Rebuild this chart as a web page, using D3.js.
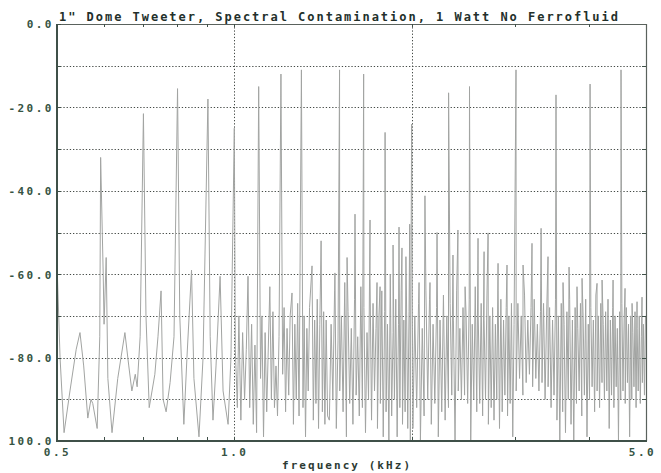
<!DOCTYPE html>
<html><head><meta charset="utf-8">
<script src="https://cdn.jsdelivr.net/npm/d3@7"></script>
<style>
html,body{margin:0;padding:0;background:#ffffff;}
svg{display:block;}
text{font-family:"DejaVu Sans Mono",monospace;font-weight:bold;}
</style></head><body>
<svg id="chart" width="661" height="473"></svg>
<script>
// Labels and ticks
const chartTitle = '1" Dome Tweeter, Spectral Contamination, 1 Watt No Ferrofluid';
const xLabel = 'frequency (kHz)';
const yTickValues = [0, -20, -40, -60, -80, -100];
const yTickLabels = ['0.0', '-20.0', '-40.0', '-60.0', '-80.0', '100.0'];
const xTickValues = [0.5, 1.0, 5.0];
const xTickLabels = ['0.5', '1.0', '5.0'];
const xMinorTicks = [0.6, 0.7, 0.8, 0.9, 3, 4];
const yGridValues = [-10, -20, -30, -40, -50, -60, -70, -80, -90];
const xGridValues = [1, 2];

// Test tones (tall spikes)
const toneKHz = [0.593, 0.701, 0.801, 0.902, 1.000, 1.100, 1.200, 1.300, 1.509, 1.658, 1.803, 2.000, 2.311, 2.508, 3.008, 3.517, 4.018, 4.535];
const toneDb  = [-32, -21.5, -15.5, -18, -25, -15, -12, -11, -11, -12, -26, -24, -16.5, -15, -11, -17, -14.4, -11];

// Distortion / intermodulation products
const productKHz = [0.606, 0.751, 0.846, 0.946, 1.055, 1.149, 1.253, 1.355, 1.404,
  1.482, 1.554, 1.603, 1.700, 1.747, 1.768, 1.860, 1.904, 1.926, 1.956, 1.985,
  2.059, 2.107, 2.149, 2.209, 2.351, 2.397, 2.465, 2.593, 2.655, 2.697, 2.804, 2.904,
  3.092, 3.202, 3.318, 3.409, 3.615, 3.701, 3.818, 3.894, 4.129, 4.211, 4.396, 4.607, 4.735, 4.828, 4.923];
const productDb = [-56, -64, -59, -60.5, -60.5, -63, -64.5, -58, -52,
  -59.7, -56, -45.6, -47, -62, -63, -53, -48.7, -53.7, -55.8, -48,
  -62, -41.2, -62, -50, -55.4, -49.4, -63, -51.4, -54.6, -50.1, -57.4, -57.8,
  -57.8, -52.6, -49, -55.8, -62, -58.3, -63, -61, -62.2, -61.4, -61.4, -63.4, -67, -66.6, -65.5];

// Residual floor below 1.45 kHz
const floorLowKHz = [0.501, 0.506, 0.514, 0.526, 0.539, 0.547, 0.555, 0.564, 0.571, 0.575, 0.585, 0.591,
  0.599, 0.601, 0.610, 0.620, 0.634, 0.652, 0.662, 0.670, 0.679, 0.684, 0.692,
  0.708, 0.717, 0.725, 0.733, 0.742, 0.757, 0.766, 0.778, 0.790,
  0.808, 0.821, 0.831, 0.854, 0.871, 0.885, 0.910, 0.920, 0.931, 0.957, 0.976, 0.987,
  1.004, 1.012, 1.018, 1.026, 1.033, 1.041, 1.048, 1.062, 1.070, 1.077, 1.084, 1.091,
  1.108, 1.114, 1.121, 1.128, 1.135, 1.141, 1.156, 1.163, 1.170, 1.177, 1.184, 1.191,
  1.208, 1.215, 1.222, 1.229, 1.237, 1.244, 1.260, 1.267, 1.274, 1.281, 1.288,
  1.308, 1.314, 1.321, 1.328, 1.335, 1.342, 1.362, 1.369, 1.376, 1.383, 1.390, 1.397,
  1.411, 1.418, 1.425, 1.432, 1.440];
const floorLowDb = [-61, -80, -98, -88, -78, -74, -82, -94.5, -90, -91, -97, -75,
  -60, -72, -85, -98, -85, -74, -82, -88, -84, -87, -75,
  -70, -92, -88, -84, -75, -90, -93, -86, -75,
  -70, -96, -80, -85, -99, -80, -75, -95, -82, -88, -96, -80,
  -78, -92, -70, -95, -74, -90, -78, -92, -72, -96, -77, -98,
  -85, -70, -99, -74, -93, -80, -90, -69, -92, -82, -94, -75,
  -84, -68, -93, -73, -89, -70, -96, -72, -90, -67, -94,
  -92, -70, -99, -73, -88, -68, -95, -71, -91, -66, -97, -72,
  -93, -69, -96, -71, -94];

// Residual floor, 1.45 - 2.0 kHz, 10 Hz bins
const floorMidStart = 1.45, floorMidStep = 0.01;
const floorMidDb = [-95, -72, -90, -64, -97, -76, -88, -70, -93, -62,
  -99, -69, -91, -73, -96, -66, -89, -75, -94, -63,
  -92, -68, -98, -74, -90, -61, -95, -67, -88, -73,
  -97, -70, -91, -64, -99, -69, -93, -72, -100, -60,
  -94, -74, -90, -66, -99, -72, -92, -64, -96, -71,
  -93, -65, -97, -69, -100];

// Residual floor, 2.0 - 3.0 kHz, 15 Hz bins
const floorHighStart = 2.01, floorHighStep = 0.015;
const floorHighDb = [-97, -70, -92, -67, -100, -73, -94, -64, -90, -66,
  -96, -72, -91, -68, -99, -71, -93, -65, -95, -70,
  -92, -67, -89, -71, -100, -64, -88, -73, -90, -68,
  -89, -70, -91, -66, -100, -72, -90, -63, -93, -70,
  -91, -67, -94, -71, -90, -65, -96, -70, -92, -68,
  -95, -72, -90, -64, -97, -66, -93, -71, -89, -68,
  -94, -70, -91, -67, -99, -72];

// Residual floor, 3.0 - 5.0 kHz, 20 Hz bins
const floorTopStart = 3.01, floorTopStep = 0.02;
const floorTopDb = [-88, -67, -85, -70, -89, -65, -86, -71, -84, -68,
  -87, -66, -85, -72, -88, -69, -86, -67, -90, -70,
  -87, -68, -92, -71, -89, -66, -95, -70, -100, -67,
  -93, -72, -98, -69, -90, -66, -96, -71, -100, -68,
  -91, -73, -88, -67, -94, -70, -89, -66, -99, -72,
  -90, -68, -87, -71, -93, -65, -88, -70, -92, -67,
  -86, -72, -90, -69, -88, -66, -97, -71, -89, -68,
  -92, -70, -87, -73, -100, -69, -90, -67, -88, -71,
  -91, -68, -86, -72, -99, -70, -90, -74, -87, -69,
  -92, -73, -88, -70, -91, -75, -86, -72, -89, -70];

// Layout
const W = 661, H = 473;
const plot = {left: 57, right: 646, top: 24, bottom: 441};
const labelColor = '#365443';
const axisColor = '#3f5048';

const svg = d3.select('#chart');
svg.append('rect').attr('width', W).attr('height', H).attr('fill', '#ffffff');

const x = d3.scaleLog().domain([0.5, 5]).range([plot.left, plot.right]);
const y = d3.scaleLinear().domain([0, -100]).range([plot.top, plot.bottom]);

// Assemble the measured trace, sorted by frequency
const trace = [];
toneKHz.forEach((f, i) => trace.push([f, toneDb[i]]));
productKHz.forEach((f, i) => trace.push([f, productDb[i]]));
floorLowKHz.forEach((f, i) => trace.push([f, floorLowDb[i]]));
[[floorMidStart, floorMidStep, floorMidDb],
 [floorHighStart, floorHighStep, floorHighDb],
 [floorTopStart, floorTopStep, floorTopDb]]
  .forEach(([start, step, levels]) => levels.forEach((v, i) => trace.push([start + i * step, v])));
trace.sort((a, b) => a[0] - b[0]);

svg.append('clipPath').attr('id', 'plotClip').append('rect')
  .attr('x', plot.left).attr('y', plot.top)
  .attr('width', plot.right - plot.left).attr('height', plot.bottom - plot.top);

// Grid
const grid = svg.append('g');
grid.selectAll('.hg').data(yGridValues).join('line')
  .attr('x1', plot.left).attr('x2', plot.right)
  .attr('y1', d => Math.round(y(d)) + 0.5).attr('y2', d => Math.round(y(d)) + 0.5)
  .attr('stroke', '#454b47').attr('stroke-width', 1).attr('stroke-dasharray', '1.3,1.9');
grid.selectAll('.vg').data(xGridValues).join('line')
  .attr('x1', d => Math.round(x(d)) + 0.5).attr('x2', d => Math.round(x(d)) + 0.5)
  .attr('y1', plot.top).attr('y2', plot.bottom)
  .attr('stroke', '#454b47').attr('stroke-width', 1).attr('stroke-dasharray', '1.3,1.9');

// Spectrum trace
const line = d3.line().x(d => x(d[0])).y(d => y(d[1]));
svg.append('path').datum(trace)
  .attr('clip-path', 'url(#plotClip)')
  .attr('d', line)
  .attr('fill', 'none')
  .attr('stroke', '#a2a4a2')
  .attr('stroke-width', 1);

// Frame
svg.append('line').attr('x1', plot.left).attr('x2', plot.right).attr('y1', plot.top + 0.5).attr('y2', plot.top + 0.5)
  .attr('stroke', '#5a625d').attr('stroke-width', 1);
svg.append('line').attr('x1', plot.right + 0.5).attr('x2', plot.right + 0.5).attr('y1', plot.top).attr('y2', plot.bottom)
  .attr('stroke', '#5a625d').attr('stroke-width', 1.2);
svg.append('line').attr('x1', plot.left).attr('x2', plot.left).attr('y1', plot.top).attr('y2', plot.bottom + 1)
  .attr('stroke', axisColor).attr('stroke-width', 2);
svg.append('line').attr('x1', plot.left - 1).attr('x2', plot.right + 1).attr('y1', plot.bottom).attr('y2', plot.bottom)
  .attr('stroke', axisColor).attr('stroke-width', 2);

// Tick marks on the frame
const yAllTicks = [0].concat(yGridValues);
svg.append('g').selectAll('line').data(yAllTicks).join('line')
  .attr('x1', plot.left).attr('x2', plot.left + 4)
  .attr('y1', d => Math.round(y(d)) + 0.5).attr('y2', d => Math.round(y(d)) + 0.5)
  .attr('stroke', axisColor).attr('stroke-width', 1);
svg.append('g').selectAll('line').data(yGridValues).join('line')
  .attr('x1', plot.right - 4).attr('x2', plot.right)
  .attr('y1', d => Math.round(y(d)) + 0.5).attr('y2', d => Math.round(y(d)) + 0.5)
  .attr('stroke', axisColor).attr('stroke-width', 1);
svg.append('g').selectAll('line').data(xMinorTicks.concat(xGridValues)).join('line')
  .attr('x1', d => Math.round(x(d)) + 0.5).attr('x2', d => Math.round(x(d)) + 0.5)
  .attr('y1', plot.bottom - 4).attr('y2', plot.bottom)
  .attr('stroke', axisColor).attr('stroke-width', 1);
svg.append('g').selectAll('line').data(xMinorTicks.concat(xGridValues)).join('line')
  .attr('x1', d => Math.round(x(d)) + 0.5).attr('x2', d => Math.round(x(d)) + 0.5)
  .attr('y1', plot.top).attr('y2', plot.top + 3)
  .attr('stroke', axisColor).attr('stroke-width', 1);

// Y axis labels
const yAxis = d3.axisLeft(y).tickValues(yTickValues)
  .tickFormat((d, i) => yTickLabels[i]).tickSize(0).tickPadding(0);
const gy = svg.append('g').attr('transform', `translate(${plot.left - 3},0)`).call(yAxis);
gy.select('.domain').remove();
gy.selectAll('text')
  .attr('fill', labelColor).attr('font-size', 11).attr('dy', '0.36em')
  .style('letter-spacing', '2.5px')
  .attr('font-family', '"DejaVu Sans Mono", monospace').attr('font-weight', 'bold');

// X axis labels
const xAxis = d3.axisBottom(x).tickValues(xTickValues)
  .tickFormat((d, i) => xTickLabels[i]).tickSize(0).tickPadding(0);
const gx = svg.append('g').attr('transform', `translate(0,${plot.bottom + 7})`).call(xAxis);
gx.select('.domain').remove();
gx.selectAll('text')
  .attr('fill', labelColor).attr('font-size', 11).attr('dy', '0.72em')
  .style('letter-spacing', '2.5px')
  .attr('font-family', '"DejaVu Sans Mono", monospace').attr('font-weight', 'bold');
gx.selectAll('.tick').filter(d => d === 5).select('text').attr('dx', '-4');

svg.append('text').attr('x', 282).attr('y', 469)
  .attr('font-size', 11).attr('fill', '#2c3a33')
  .attr('textLength', 128).attr('lengthAdjust', 'spacing')
  .text(xLabel);

// Title
svg.append('text').attr('x', 59).attr('y', 21)
  .attr('font-size', 12).attr('fill', '#23302b')
  .attr('textLength', 559).attr('lengthAdjust', 'spacing')
  .text(chartTitle);
</script>
</body></html>
